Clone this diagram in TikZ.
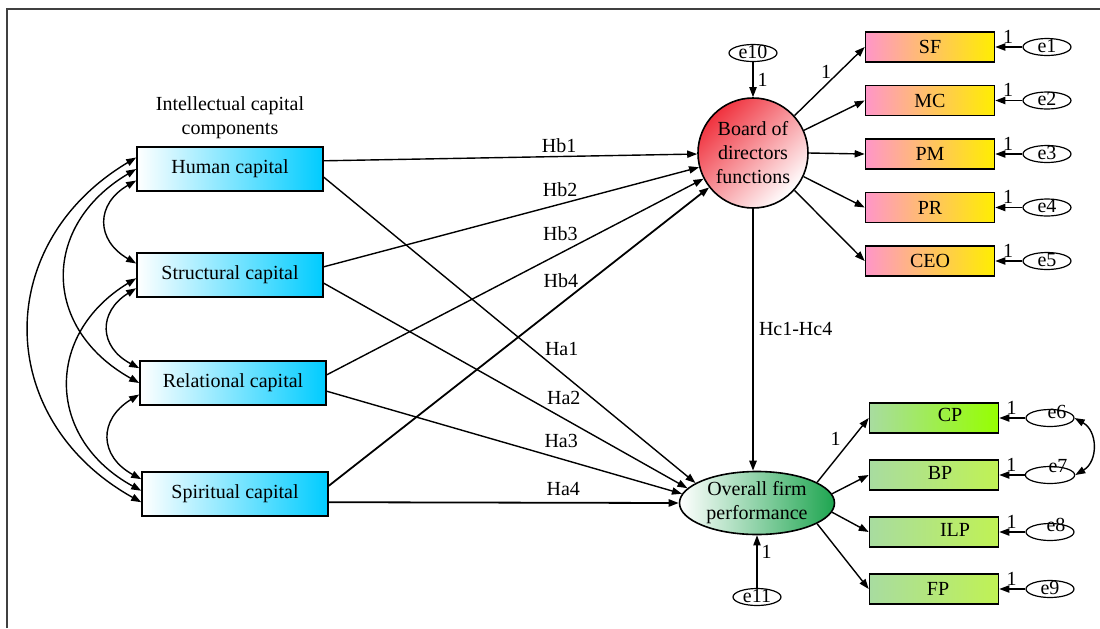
\documentclass[tikz,border=0pt]{standalone}
\usepackage{fontspec}
\setmainfont{Liberation Serif}
\usetikzlibrary{shapes.geometric,arrows.meta}
\definecolor{icblue}{RGB}{0,204,255}
\definecolor{bdred}{RGB}{240,50,62}
\definecolor{bdpink}{RGB}{255,150,200}
\definecolor{bdyellow}{RGB}{255,238,0}
\definecolor{ofgreen}{RGB}{30,165,80}
\definecolor{oflight}{RGB}{168,220,160}
\definecolor{oflime}{RGB}{192,242,84}
\definecolor{cplime}{RGB}{150,255,0}
\tikzset{
	icbox/.style={draw, line width=0.8pt, minimum width=93pt, minimum height=22pt, inner sep=0pt, left color=white, right color=icblue},
	bdbox/.style={draw, line width=0.8pt, minimum width=64.5pt, minimum height=15pt, inner sep=0pt, left color=bdpink, right color=bdyellow},
	ofbox/.style={draw, line width=0.8pt, minimum width=64.5pt, minimum height=15pt, inner sep=0pt, left color=oflight, right color=oflime},
	err/.style={draw, ellipse, line width=0.6pt, minimum width=24pt, minimum height=8.5pt, inner sep=0pt, text height=5pt, text depth=0pt},
	arr/.style={-{Triangle[length=5pt,width=3.6pt]}, line width=0.7pt},
	cov/.style={{Triangle[length=5pt,width=3.6pt]}-{Triangle[length=5pt,width=3.6pt]}, line width=0.7pt},
	lbl/.style={inner sep=0pt}
}
\begin{document}
		\begin{tikzpicture}[x=0.5pt, y=-0.5pt, node distance=26.75pt]
			\useasboundingbox (0,0) rectangle (1100,628);
			\draw[line width=1pt, black!75] (7,628) -- (7,9) -- (1100,9);

			\node(hc) [icbox] at (230,169) {Human capital};
			\node(sc) [icbox, below of=hc, node distance=53pt] {Structural capital};
			\node(rc) [icbox, below of=sc, node distance=54pt, xshift=1.5pt] {Relational capital};
			\node(spc) [icbox, below of=rc, node distance=55.5pt, xshift=1pt] {Spiritual capital};
			\node(title) [align=center, above of=hc, node distance=25.5pt] {Intellectual capital\\components};

			\node(bdf) [draw, circle, line width=0.8pt, minimum size=55pt, inner sep=0pt, align=center, top color=bdred, bottom color=white, shading angle=45] at (753,153) {Board of\\directors\\functions};
			\node(e10) [err, above of=bdf, node distance=50pt] {e10};
			\node(ofp) [draw, ellipse, line width=0.8pt, minimum width=77.5pt, minimum height=31.5pt, inner sep=0pt, align=center, left color=white, right color=ofgreen, below of=bdf, node distance=175pt, xshift=2pt] {Overall firm\\performance};
			\node(e11) [err, below of=ofp, node distance=47pt] {e11};

			\node(sf) [bdbox] at (930,47) {SF};
			\node(mc) [bdbox, below of=sf] {MC};
			\node(pm) [bdbox, below of=mc] {PM};
			\node(pr) [bdbox, below of=pm] {PR};
			\node(ceo) [bdbox, below of=pr] {CEO};
			\node(e1) [err, right of=sf, node distance=58.5pt] {e1};
			\node(e2) [err, right of=mc, node distance=58.5pt] {e2};
			\node(e3) [err, right of=pm, node distance=58.5pt] {e3};
			\node(e4) [err, right of=pr, node distance=58.5pt] {e4};
			\node(e5) [err, right of=ceo, node distance=58.5pt] {e5};

			\node(cp) [ofbox, right color=cplime] at (934,418) {\hspace*{16pt}\raisebox{3pt}{CP}};
			\node(bp) [ofbox, below of=cp, node distance=28.5pt] {\hspace*{6pt}\raisebox{2.5pt}{BP}};
			\node(ilp) [ofbox, below of=bp, node distance=28.5pt] {\hspace*{21pt}\raisebox{2pt}{ILP}};
			\node(fp) [ofbox, below of=ilp, node distance=28.5pt] {\hspace*{4pt}FP};
			\node(e6) [err, right of=cp, node distance=58pt] {\hspace*{7pt}\raisebox{2.5pt}{e6}};
			\node(e7) [err, right of=bp, node distance=58pt] {\hspace*{8pt}\raisebox{4pt}{e7}};
			\node(e8) [err, right of=ilp, node distance=58pt] {\hspace*{6pt}\raisebox{3pt}{e8}};
			\node(e9) [err, right of=fp, node distance=58pt] {e9};

			\draw[cov] (hc.187) to[bend right=60, looseness=1.45] (sc.173);
			\draw[cov] (sc.188) to[bend right=60, looseness=1.45] (rc.171);
			\draw[cov] (rc.187) to[bend right=60, looseness=1.45] (spc.171);
			\draw[cov] (hc.180) to[bend right=60, looseness=1.33] (rc.180);
			\draw[cov] (sc.182) to[bend right=60, looseness=1.3] (spc.178);
			\draw[cov] (hc.173) to[bend right=60, looseness=1.25] (spc.185);

			\draw[arr] (hc.5) -- node[lbl, pos=.63, above=1.4pt] {Hb1} (bdf);
			\draw[arr] (sc.5) -- node[lbl, pos=.63, above=3.6pt] {Hb2} (bdf);
			\draw[arr] (rc.5) -- node[lbl, pos=.62, above=6.1pt] {Hb3} (bdf);
			\draw[arr, line width=0.9pt] (spc.5) -- node[lbl, pos=.61, above=7.8pt] {Hb4} (bdf);
			\draw[arr] (hc.-5) -- node[lbl, pos=.64, above=8.3pt] {Ha1} (ofp.162);
			\draw[arr] (sc.-5) -- node[lbl, pos=.66, above=6.8pt] {Ha2} (ofp.168);
			\draw[arr] (rc.-5) -- node[lbl, pos=.66, above=5.2pt] {Ha3} (ofp.173);
			\draw[arr, line width=0.9pt] (spc.-5) -- node[lbl, pos=.67, above=3pt] {Ha4} (ofp.west);

			\draw[arr, line width=1pt] (bdf.south) -- node[lbl, pos=.46, right=2.5pt] {Hc1-Hc4} (bdf.south |- ofp.north);
			\draw[arr] (e10) -- node[lbl, right=2pt] {1} (bdf);
			\draw[arr] (e11) -- node[lbl, pos=.68, right=2pt] {1} (ofp);

			\draw[arr] (bdf.42) -- node[lbl, pos=.45, above=3pt] {1} (sf.west);
			\draw[arr] (bdf.24) -- (mc.west);
			\draw[arr] (bdf.0) -- (pm.west);
			\draw[arr] (bdf.-25) -- (pr.west);
			\draw[arr] (bdf.-42) -- (ceo.west);

			\draw[arr] (ofp.19) -- node[lbl, pos=.4, above=5pt, xshift=-1pt] {1} (cp.west);
			\draw[arr] (ofp.7.5) -- (bp.west);
			\draw[arr] (ofp.-7.5) -- (ilp.west);
			\draw[arr] (ofp.-19) -- (fp.west);

			\draw[arr] (e1) -- node[lbl, pos=.53, above=1.6pt] {1} (sf);
			\draw[arr] (e2) -- node[lbl, pos=.53, above=1.6pt] {1} (mc);
			\draw[arr] (e3) -- node[lbl, pos=.53, above=1.6pt] {1} (pm);
			\draw[arr] (e4) -- node[lbl, pos=.53, above=1.6pt] {1} (pr);
			\draw[arr] (e5) -- node[lbl, pos=.53, above=1.6pt] {1} (ceo);
			\draw[arr] (e6) -- node[lbl, pos=.53, above=1.6pt] {1} (cp);
			\draw[arr] (e7) -- node[lbl, pos=.53, above=1.6pt] {1} (bp);
			\draw[arr] (e8) -- node[lbl, pos=.53, above=1.6pt] {1} (ilp);
			\draw[arr] (e9) -- node[lbl, pos=.53, above=1.6pt] {1} (fp);
			\draw[cov] (e6.east) to[bend left=60, looseness=1.2] (e7.east);
		\end{tikzpicture}
\end{document}
